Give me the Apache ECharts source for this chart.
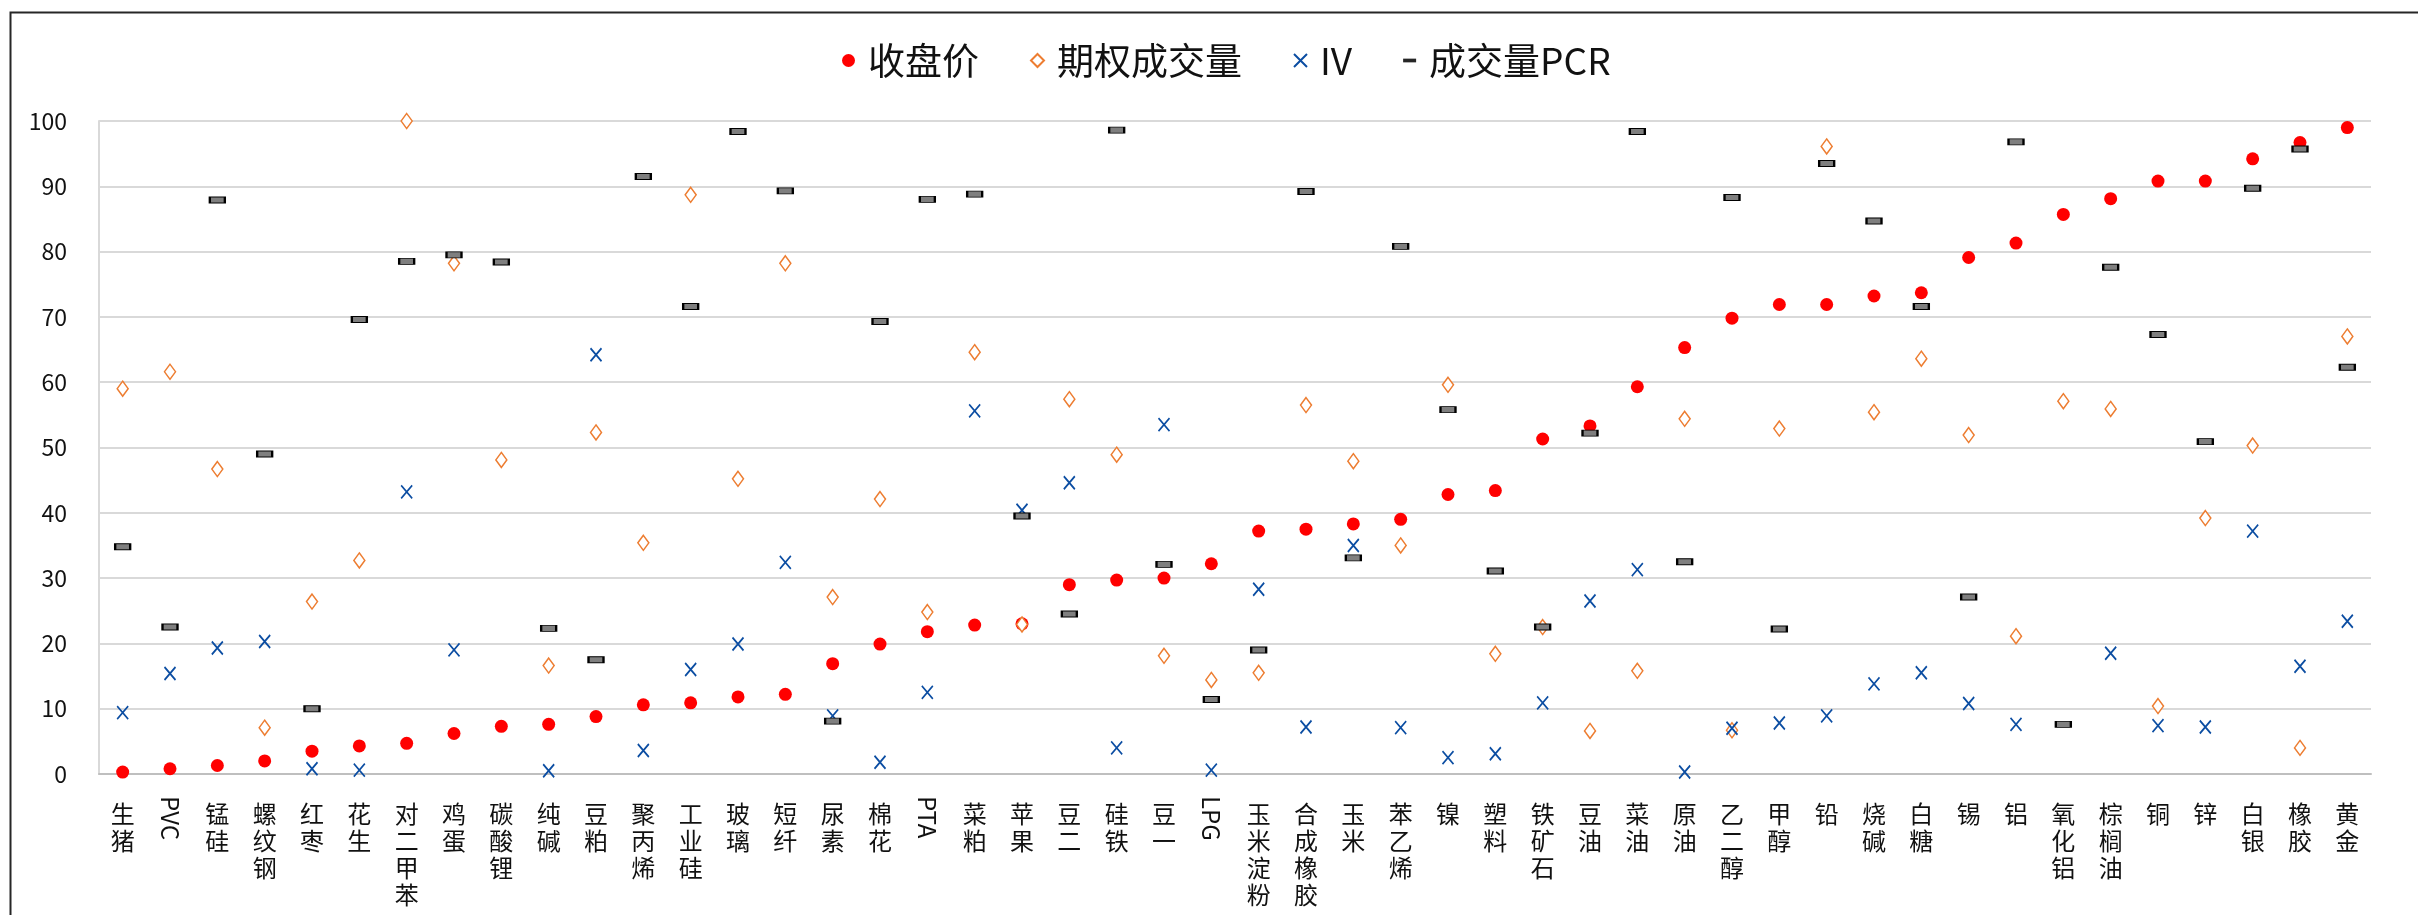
<!DOCTYPE html>
<html>
<head>
<meta charset="utf-8">
<script src="https://cdn.jsdelivr.net/npm/echarts@6/dist/echarts.min.js"></script>
<style>
html,body{margin:0;padding:0;background:#fff;}
#c{width:2418px;height:915px;}
</style>
</head>
<body>
<div id="c"></div>
<script>
var categories = ['生猪','PVC','锰硅','螺纹钢','红枣','花生','对二甲苯','鸡蛋','碳酸锂','纯碱','豆粕','聚丙烯','工业硅','玻璃','短纤','尿素','棉花','PTA','菜粕','苹果','豆二','硅铁','豆一','LPG','玉米淀粉','合成橡胶','玉米','苯乙烯','镍','塑料','铁矿石','豆油','菜油','原油','乙二醇','甲醇','铅','烧碱','白糖','锡','铝','氧化铝','棕榈油','铜','锌','白银','橡胶','黄金'];

var closePrice = [0.3,0.8,1.3,2.0,3.5,4.3,4.7,6.2,7.3,7.6,8.8,10.6,10.9,11.8,12.2,16.9,19.9,21.8,22.8,23.0,29.0,29.7,30.0,32.2,37.2,37.5,38.3,39.0,42.8,43.4,51.3,53.3,59.3,65.3,69.8,71.9,71.9,73.2,73.7,79.1,81.3,85.7,88.1,90.8,90.8,94.2,96.7,99.0];

var optionVolume = [59.0,61.6,46.7,7.1,26.4,32.7,100,78.2,48.1,16.6,52.3,35.4,88.7,45.2,78.2,27.1,42.1,24.8,64.6,22.9,57.4,48.9,18.1,14.4,15.5,56.5,47.9,35.0,59.6,18.4,22.5,6.6,15.8,54.4,6.7,52.9,96.1,55.4,63.6,51.9,21.1,57.1,55.9,10.4,39.2,50.3,4.0,67.0];

var iv = [9.4,15.4,19.3,20.3,0.8,0.6,43.2,19.0,null,0.5,64.2,3.6,16.0,19.9,32.4,8.9,1.8,12.5,55.6,40.4,44.6,4.0,53.5,0.6,28.3,7.2,35.0,7.1,2.5,3.1,10.9,26.5,31.3,0.3,7.0,7.8,8.9,13.8,15.5,10.8,7.6,null,18.5,7.4,7.2,37.2,16.5,23.4];

var pcr = [34.8,22.5,87.9,49.0,10.0,69.6,78.5,79.5,78.4,22.3,17.5,91.5,71.6,98.4,89.3,8.1,69.3,88.0,88.8,39.5,24.5,98.6,32.1,11.4,19.0,89.2,33.1,80.8,55.8,31.1,22.5,52.2,98.4,32.5,88.3,22.2,93.5,84.7,71.6,27.1,96.8,7.6,77.6,67.3,50.9,89.7,95.7,62.3];

var seriesNames = ['收盘价','期权成交量','IV','成交量PCR'];
var yTicks = {min: 0, max: 100, interval: 10};

var FONT = '"Noto Sans CJK SC","Microsoft YaHei",sans-serif';
var isLatin = function (s) { return /^[A-Za-z]+$/.test(s); };
var X_PATH = 'path://M0,0L10,10M10,0L0,10';
var DASH_PATH = 'path://M0,0H14V4H0Z';

var chart = echarts.init(document.getElementById('c'), null, {renderer: 'canvas'});

var gridCfg = {left: 99, right: 47, top: 121, bottom: 141, containLabel: false};

chart.setOption({
  backgroundColor: '#ffffff',
  animation: false,
  graphic: [{
    type: 'rect', left: 8, top: 10, z: 100, silent: true,
    shape: {x: 0, y: 0, width: 2600, height: 1100},
    style: {fill: 'none', stroke: '#262626', lineWidth: 2}
  }],
  legend: {
    left: 837, top: 37,
    itemWidth: 13, itemHeight: 13, itemGap: 51,
    textStyle: {fontFamily: FONT, fontSize: 37, color: '#111', padding: [0, 0, 0, 8]},
    data: [
      {name: seriesNames[0], icon: 'circle'},
      {name: seriesNames[1], icon: 'diamond'},
      {name: seriesNames[2], icon: X_PATH},
      {name: seriesNames[3], icon: DASH_PATH, itemStyle: {color: '#262626', borderWidth: 0}}
    ]
  },
  grid: gridCfg,
  xAxis: [{
    type: 'category', data: categories, boundaryGap: true,
    axisLine: {show: true, lineStyle: {color: '#BFBFBF', width: 2}},
    axisTick: {show: false},
    splitLine: {show: false},
    axisLabel: {
      interval: 0, margin: 26, fontFamily: FONT, fontSize: 24, lineHeight: 27,
      color: '#111', verticalAlign: 'top',
      formatter: function (v) { return isLatin(v) ? '' : v.split('').join('\n'); }
    }
  }, {
    type: 'category', data: categories, boundaryGap: true, position: 'bottom',
    axisLine: {show: false}, axisTick: {show: false}, splitLine: {show: false},
    axisLabel: {
      interval: 0, margin: 22, rotate: -90, fontFamily: FONT, fontSize: 24, color: '#111',
      formatter: function (v) { return isLatin(v) ? v : ''; }
    }
  }],
  yAxis: {
    type: 'value', min: yTicks.min, max: yTicks.max, interval: yTicks.interval,
    axisLine: {show: true, lineStyle: {color: '#D9D9D9', width: 2}},
    axisTick: {show: false},
    splitLine: {show: true, lineStyle: {color: '#D9D9D9', width: 2}},
    axisLabel: {margin: 32, fontFamily: FONT, fontSize: 23, color: '#111'}
  },
  series: [{
    name: seriesNames[0], type: 'scatter', data: closePrice,
    symbol: 'circle', symbolSize: 13,
    itemStyle: {color: '#FF0000', opacity: 1}
  }, {
    name: seriesNames[1], type: 'scatter', data: optionVolume,
    symbol: 'diamond', symbolSize: [11, 15],
    itemStyle: {color: '#ffffff', borderColor: '#ED7D31', borderWidth: 1.5, opacity: 1}
  }, {
    name: seriesNames[2], type: 'scatter', data: iv,
    symbol: X_PATH, symbolSize: [11, 13],
    itemStyle: {color: 'rgba(0,0,0,0)', borderColor: '#0B4DA2', borderWidth: 1.8, opacity: 1}
  }, {
    name: seriesNames[3], type: 'scatter', data: pcr,
    symbol: 'rect', symbolSize: [15, 6],
    itemStyle: {color: '#7F7F7F', borderColor: '#000000', borderWidth: 1.5, opacity: 1}
  }]
});
</script>
</body>
</html>
